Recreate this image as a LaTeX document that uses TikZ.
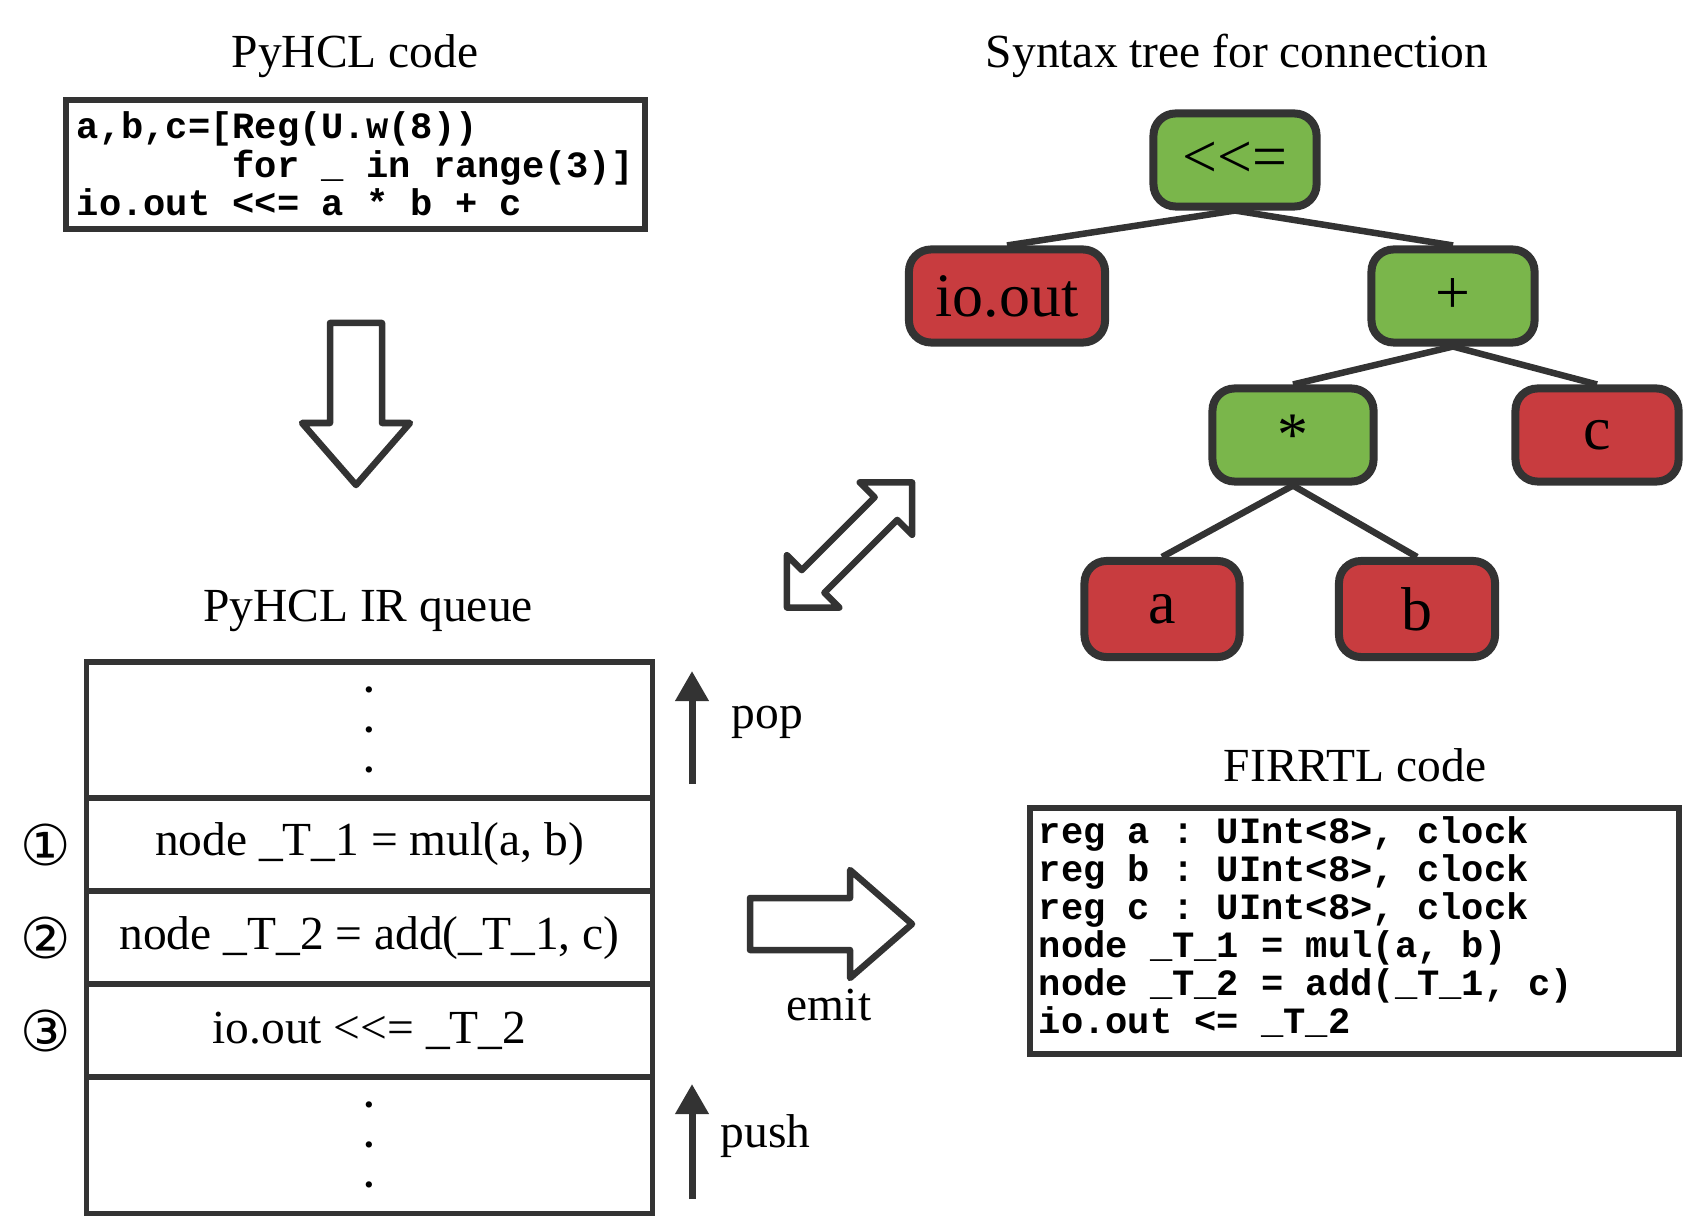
\documentclass[tikz,border=0pt]{standalone}
\usepackage{fontspec}
\setmainfont{Liberation Serif}
\setmonofont{Liberation Mono}
\newfontfamily\circfont{DejaVu Sans}
\usetikzlibrary{positioning, arrows.meta, backgrounds}

\definecolor{linegray}{HTML}{333333}
\definecolor{opgreen}{HTML}{7AB64B}
\definecolor{leafred}{HTML}{C83C3F}

\tikzstyle{title} = [font=\fontsize{13.5pt}{16pt}\selectfont, inner sep=0pt, anchor=base]
\tikzstyle{codebox} = [draw=linegray, line width=0.055cm, inner xsep=0.11cm, inner ysep=0pt,
   font=\ttfamily\bfseries\frenchspacing\fontsize{10.55pt}{10.53pt}\selectfont]
\tikzstyle{treenode} = [draw=linegray, line width=0.08cm, rounded corners=0.22cm, minimum width=1.63cm,
   minimum height=0.93cm, inner sep=0pt, font=\fontsize{17.6pt}{20pt}\selectfont]
\tikzstyle{opnode} = [treenode, fill=opgreen]
\tikzstyle{leafnode} = [treenode, fill=leafred]
\tikzstyle{treeedge} = [linegray, line width=0.065cm]
\tikzstyle{queuerow} = [draw=linegray, line width=0.055cm, minimum width=5.655cm, minimum height=0.93cm,
   outer sep=0pt, inner sep=0pt, font=\fontsize{13.5pt}{16pt}\selectfont]
\tikzstyle{dotsrow} = [queuerow, minimum height=1.36cm, align=center, font=\bfseries\fontsize{11pt}{11.4pt}\selectfont]
\tikzstyle{circnum} = [inner sep=0pt, font=\circfont\fontsize{16pt}{18pt}\selectfont]
\tikzstyle{fatarrow} = [draw=linegray, line width=0.065cm, line join=round]
\tikzstyle{thinarrow} = [linegray, line width=0.07cm, -{Triangle[width=0.32cm,length=0.3cm]}]

\begin{document}
\begin{tikzpicture}[x=0.01cm, y=-0.01cm]
  \useasboundingbox (0,0) rectangle (1686,1222);

  % titles
  \node[title] (pyhcltitle) at (355,68) {PyHCL code};
  \node[title] (treetitle) at (1237,68) {Syntax tree for connection};
  \node[title] (queuetitle) at (368,621) {PyHCL IR queue};
  \node[title] (firrtltitle) at (1355,781) {FIRRTL code};

  % code boxes
  \node[codebox, minimum height=1.29cm] (pyhclcode) at (355.5,164.5)
    {\makebox[5.57cm][l]{\begin{tabular}{@{}l@{}}
      \rule{0pt}{0.36cm}a,b,c=[Reg(U.w(8))\\
      \phantom{a,b,c=[}for \_ in range(3)]\\
      io.out <<= a * b + c
    \end{tabular}}};
  \node[codebox, minimum height=2.46cm, inner xsep=0.09cm] (firrtlcode) at (1354.5,931)
    {\makebox[6.31cm][l]{\begin{tabular}{@{}l@{}}
      reg a : UInt<8>, clock\\
      reg b : UInt<8>, clock\\
      reg c : UInt<8>, clock\\
      node \_T\_1 = mul(a, b)\\
      node \_T\_2 = add(\_T\_1, c)\\
      io.out <= \_T\_2
    \end{tabular}}};

  % syntax tree
  \node[opnode] (assign) at (1235,160) {<\kern0pt<=};
  \node[leafnode, minimum width=1.96cm] (ioout) at (1007,296) {io.out};
  \node[opnode] (plus) at (1453,296) {+};
  \node[opnode, minimum width=1.61cm] (mul) at (1293,435) {*};
  \node[leafnode] (leafc) at (1597,435) {c};
  \node[leafnode, minimum width=1.55cm, minimum height=0.96cm] (leafa) at (1162,609) {a};
  \node[leafnode, minimum width=1.56cm, minimum height=0.96cm] (leafb) at (1417,609) {b};
  \begin{scope}[on background layer]
    \draw[treeedge] (assign.south) -- (ioout.north);
    \draw[treeedge] (assign.south) -- (plus.north);
    \draw[treeedge] (plus.south) -- (mul.north);
    \draw[treeedge] (plus.south) -- (leafc.north);
    \draw[treeedge] (mul.south) -- (leafa.north);
    \draw[treeedge] (mul.south) -- (leafb.north);
  \end{scope}

  % IR queue
  \node[dotsrow] (qtop) at (369.5,730) {.\\.\\.};
  \node[queuerow, below=0pt of qtop] (qrow1) {node \_T\_1 = mul(a, b)};
  \node[queuerow, below=0pt of qrow1] (qrow2) {node \_T\_2 = add(\_T\_1, c)};
  \node[queuerow, below=0pt of qrow2] (qrow3) {io.out <\kern0pt<= \_T\_2};
  \node[dotsrow, below=0pt of qrow3] (qbot) {.\\.\\.};
  \node[circnum] (num1) at ([xshift=-0.41cm]qrow1.west) {①};
  \node[circnum] (num2) at ([xshift=-0.41cm]qrow2.west) {②};
  \node[circnum] (num3) at ([xshift=-0.41cm]qrow3.west) {③};

  % pop / push
  \coordinate (popfrom) at (692,784);
  \coordinate (popto) at (692,671);
  \coordinate (pushfrom) at (692,1199);
  \coordinate (pushto) at (692,1084);
  \draw[thinarrow] (popfrom) -- (popto);
  \draw[thinarrow] (pushfrom) -- (pushto);
  \node[title, anchor=base west] (poplabel) at (731,728) {pop};
  \node[title, anchor=base west] (pushlabel) at (720,1147) {push};
  \node[title] (emitlabel) at (829,1020) {emit};

  % block arrows
  \begin{scope}[shift={(356,404)}, rotate=-90]
    \draw[fatarrow] (-81,-26) -- (19,-26) -- (19,-54) -- (81,0) -- (19,54) -- (19,26) -- (-81,26) -- cycle;
  \end{scope}
  \begin{scope}[shift={(831,924)}]
    \draw[fatarrow] (-81,-26) -- (19,-26) -- (19,-54) -- (81,0) -- (19,54) -- (19,26) -- (-81,26) -- cycle;
  \end{scope}
  \begin{scope}[shift={(849.5,545)}, rotate=45]
    \draw[fatarrow] (-88.5,0) -- (-51.5,-37) -- (-51.5,-16) -- (51.5,-16) -- (51.5,-37) -- (88.5,0)
      -- (51.5,37) -- (51.5,16) -- (-51.5,16) -- (-51.5,37) -- cycle;
  \end{scope}
\end{tikzpicture}
\end{document}
